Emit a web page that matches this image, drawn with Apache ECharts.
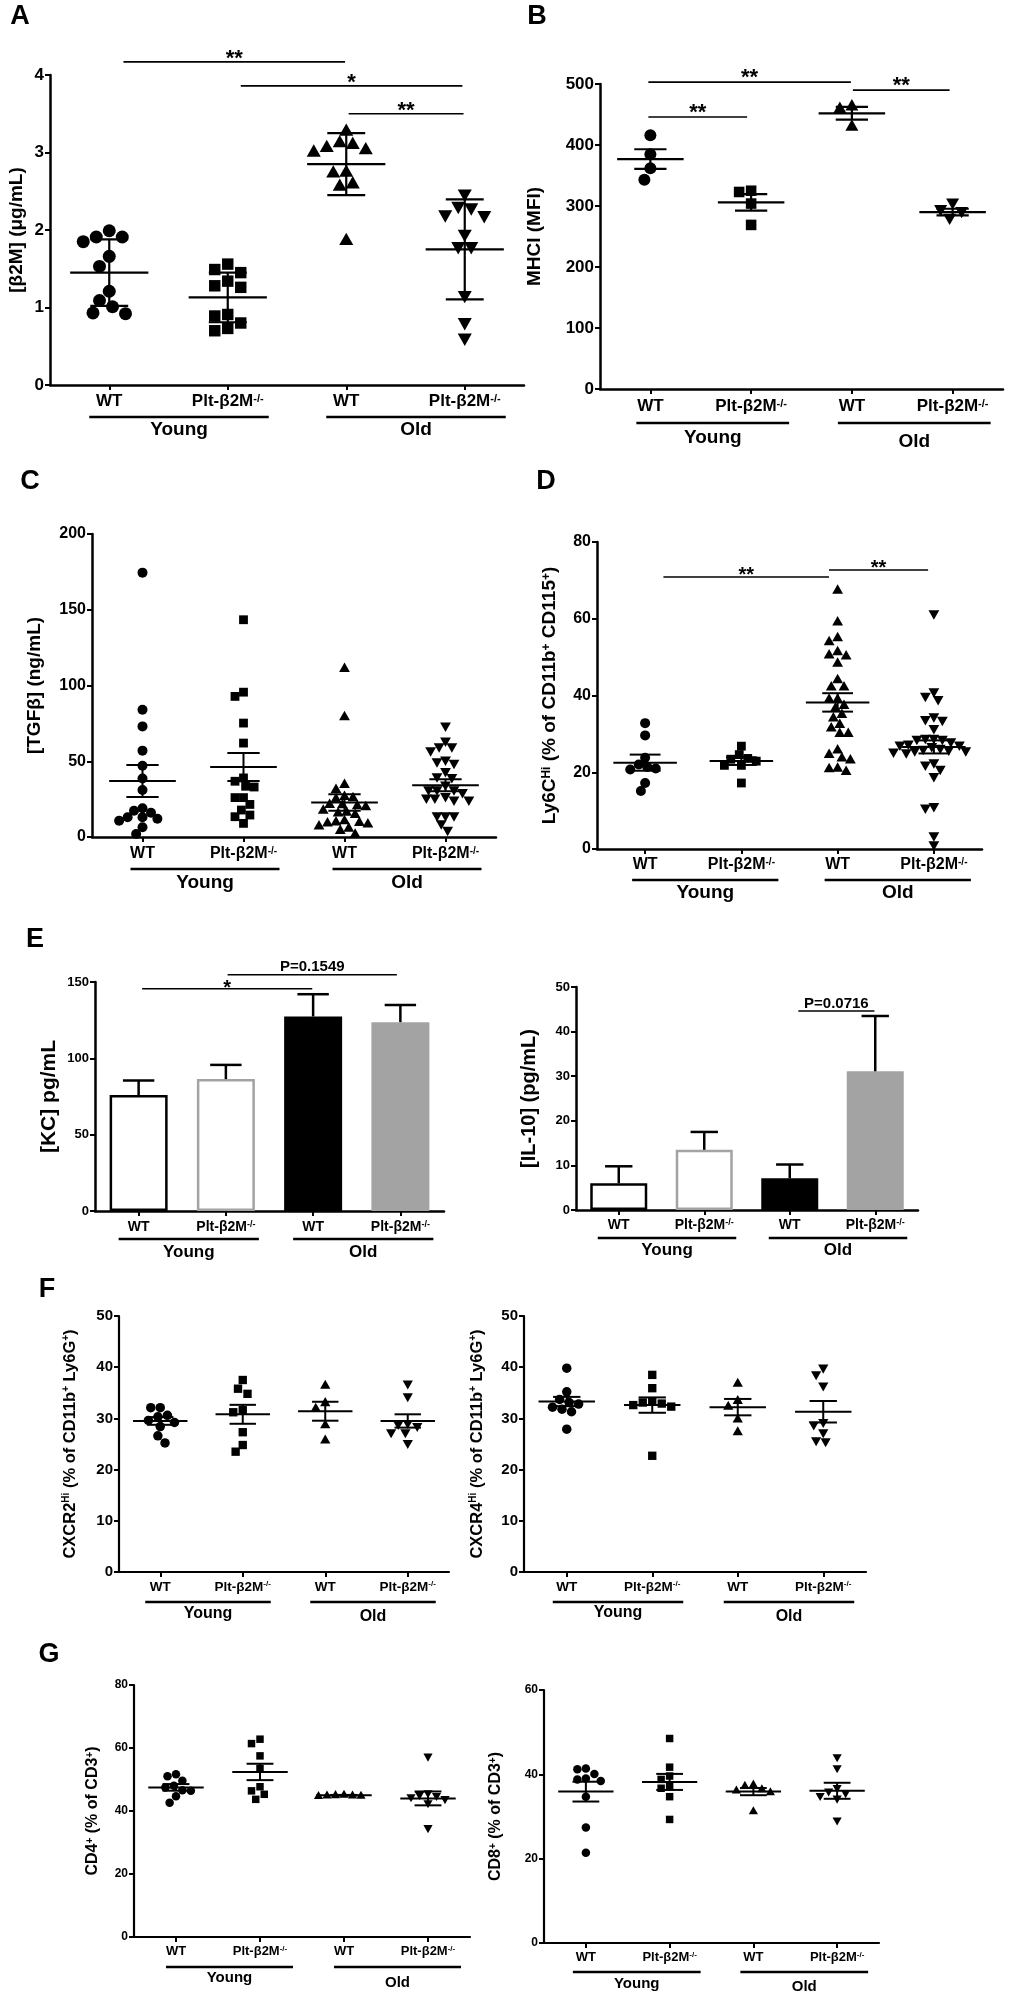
<!DOCTYPE html>
<html>
<head>
<meta charset="utf-8">
<title>Figure</title>
<script src="https://cdn.jsdelivr.net/npm/echarts/dist/echarts.min.js"></script>
<style>
html,body{margin:0;padding:0;background:#ffffff;}
#chart{width:1020px;height:2004px;}
</style>
</head>
<body>
<div id="chart"></div>
<script>
// ================= DATA =================
const categories = ['WT', 'Plt-β2M-/-', 'WT', 'Plt-β2M-/-'];
const ageGroups = ['Young', 'Old'];

// A  [β2M] (μg/mL)  mean ± SD
const a_young_wt  = [1.99, 1.91, 1.85, 1.91, 1.66, 1.53, 1.21, 1.01, 1.09, 0.92, 0.93];
const a_young_plt = [1.45, 1.49, 1.56, 1.34, 1.28, 1.26, 0.91, 0.89, 0.80, 0.73, 0.70];
const a_old_wt    = [3.28, 3.13, 3.07, 3.01, 3.04, 3.11, 2.75, 2.74, 2.60, 2.57, 1.87];
const a_old_plt   = [2.46, 2.30, 2.19, 2.18, 2.28, 1.94, 1.78, 1.78, 1.15, 0.80, 0.60];
const a_mean = [1.45, 1.13, 2.85, 1.75];
const a_err  = [0.43, 0.32, 0.40, 0.645];
const a_ticks = [0, 1, 2, 3, 4];
const a_sig = [{from: 0.62, to: 2.49, y: 4.17, text: '**'}, {from: 1.61, to: 3.48, y: 3.86, text: '*'}, {from: 2.52, to: 3.49, y: 3.5, text: '**'}];

// B  MHCI (MFI)
const b_young_wt  = [416, 385, 362, 343];
const b_young_plt = [323, 325, 304, 269];
const b_old_wt    = [464, 460, 431];
const b_old_plt   = [305, 294, 291, 280];
const b_mean = [377, 306, 452, 290];
const b_err  = [16, 13.5, 10.5, 5.5];
const b_ticks = [0, 100, 200, 300, 400, 500];
const b_sig = [{from: 0.48, to: 2.49, y: 503, text: '**'}, {from: 0.48, to: 1.46, y: 446, text: '**'}, {from: 2.51, to: 3.47, y: 490, text: '**'}];

// C  [TGFβ] (ng/mL)
const c_young_wt  = [174.5, 84, 73, 57, 47, 38.6, 31, 19, 16, 17.3, 10.7, 13, 13, 12, 6.4, 2];
const c_young_plt = [143.4, 95.6, 92.8, 75.2, 62, 36.8, 33, 33.5, 39, 26, 26, 21.5, 14.5, 13.4, 17.8, 9];
const c_old_wt    = [111.4, 79.6, 34.9, 31.6, 27, 26.1, 25.5, 21.7, 21.5, 20.8, 20.2, 17.8, 16.5, 16.0, 15.0, 11.0, 10.1, 9.8, 9.5, 8.8, 7.5, 6.0, 4.5, 2.0];
const c_old_plt   = [73, 63.2, 59.4, 56.8, 59.4, 50.7, 49.5, 48.5, 43, 39.6, 39, 31, 31, 34.2, 29.1, 31, 25.5, 24.3, 26.5, 25.5, 24.3, 13.8, 13.8, 13.8, 8.6, 4.2];
const c_mean = [37, 46.2, 22.8, 34.2];
const c_err  = [10.6, 9.3, 5.4, 4.0];
const c_ticks = [0, 50, 100, 150, 200];

// D  Ly6C Hi (% of CD11b+ CD115+)
const d_young_wt  = [32.8, 29.6, 23.8, 22, 20.7, 21, 21.4, 17.2, 15.1];
const d_young_plt = [26.8, 24.6, 23.4, 23.6, 22.9, 21.8, 21.8, 17.2];
const d_old_wt    = [67.5, 59.2, 55.1, 54.1, 50.6, 50.4, 51.5, 48.5, 44.2, 42.3, 42.3, 39.1, 39.1, 37.5, 36.8, 35.1, 34.2, 32.5, 31.6, 30.2, 30.2, 25.9, 24.7, 23.8, 23.3, 21.1, 20.3, 21.0];
const d_old_plt   = [61.2, 40.9, 38.9, 39.7, 34.4, 33.5, 33.7, 31.3, 28.5, 28.8, 28.8, 27.9, 28.5, 26.2, 25.9, 26.6, 27, 27.3, 27, 25.5, 25.2, 25.7, 25.5, 25, 21.8, 22.4, 20.7, 18.8, 11, 10.6, 3.4, 1.0];
const d_mean = [22.5, 22.9, 38.2, 26.6];
const d_err  = [2.1, 1.0, 2.4, 1.7];
const d_ticks = [0, 20, 40, 60, 80];
const d_sig = [{from: 0.69, to: 2.41, y: 70.9, text: '**'}, {from: 2.41, to: 3.44, y: 72.7, text: '**'}];

// E  [KC] pg/mL and [IL-10] (pg/mL)  bars, mean + SEM
const kc_mean = [76, 86.4, 127.4, 123.7];
const kc_err  = [9.5, 9.3, 14.6, 11.3];
const kc_ticks = [0, 50, 100, 150];
const kc_sig = [{from: 0.54, to: 2.49, y: 145.5, text: '*'}, {from: 1.52, to: 3.46, y: 154.7, text: 'P=0.1549'}];
const il10_mean = [6.0, 13.5, 7.1, 31.1];
const il10_err  = [3.8, 4.0, 3.1, 12.4];
const il10_ticks = [0, 10, 20, 30, 40, 50];
const il10_sig = [{from: 2.60, to: 3.49, y: 44.6, text: 'P=0.0716'}];

// F  CXCR2 Hi / CXCR4 Hi (% of CD11b+ Ly6G+)
const f2_young_wt  = [32.1, 32.1, 30.6, 30.3, 29.6, 29.2, 28.4, 26.6, 25.2];
const f2_young_plt = [37.5, 35.8, 34.8, 31.2, 31.6, 27.3, 24.8, 23.5];
const f2_old_wt    = [36.5, 33.1, 32.0, 28.8, 25.8];
const f2_old_plt   = [36.7, 34.2, 28.8, 27.2, 28.4, 27.2, 29.0, 25.1];
const f2_mean = [29.5, 30.8, 31.4, 29.5];
const f2_err  = [0.75, 1.85, 1.85, 1.3];
const f4_young_wt  = [39.8, 35.2, 33.7, 32.8, 33.1, 31.8, 31.3, 32.2, 27.9];
const f4_young_plt = [38.5, 35.9, 33.3, 32.6, 32.3, 32.9, 33.1, 22.7];
const f4_old_wt    = [36.9, 33.5, 32.4, 29.9, 27.4];
const f4_old_plt   = [39.8, 38.5, 36.3, 29.2, 28.7, 27.2, 25.4, 25.6];
const f4_mean = [33.3, 32.6, 32.2, 31.3];
const f4_err  = [0.9, 1.5, 1.6, 2.1];
const f_ticks = [0, 10, 20, 30, 40, 50];

// G  CD4+ / CD8+ (% of CD3+)
const g4_young_wt  = [51.7, 51.0, 49.6, 48.0, 47.5, 46.6, 46.4, 44.7, 42.6];
const g4_young_plt = [62.8, 61.4, 57.5, 53.5, 47.7, 46.4, 43.7, 45.3];
const g4_old_wt    = [45.2, 45.0, 44.9, 45.1, 45.0, 44.8];
const g4_old_plt   = [57.2, 45.6, 45.0, 44.3, 44.7, 43.7, 42.4, 34.5];
const g4_mean = [47.5, 52.4, 45.0, 44.0];
const g4_err  = [1.05, 2.6, 0.1, 2.2];
const g4_ticks = [0, 20, 40, 60, 80];
const g8_young_wt  = [41.4, 40.1, 41.2, 39.0, 38.4, 38.8, 34.7, 27.4, 21.4];
const g8_young_plt = [48.5, 41.7, 38.8, 39.6, 36.7, 37.1, 34.7, 29.3];
const g8_old_wt    = [37.3, 36.2, 36.5, 37.6, 35.8, 31.3];
const g8_old_plt   = [44.0, 41.4, 35.9, 34.2, 34.8, 36.7, 35.5, 29.0];
const g8_mean = [35.9, 38.2, 35.9, 36.1];
const g8_err  = [2.35, 1.9, 0.85, 1.9];
const g8_ticks = [0, 20, 40, 60];

// ================= LAYOUT / STYLE =================
const FONT = '"Liberation Sans", Arial, Helvetica, sans-serif';
const SHAPES = ['circle', 'square', 'triangle', 'triangleDown'];
const BAR_STYLES = [
  {color: '#ffffff', borderColor: '#000000', borderWidth: 2.5},
  {color: '#ffffff', borderColor: '#a3a3a3', borderWidth: 2.5},
  {color: '#000000', borderColor: '#000000', borderWidth: 0},
  {color: '#a3a3a3', borderColor: '#a3a3a3', borderWidth: 0}
];

const panels = [
  {kind: 'scatter', groups: [a_young_wt, a_young_plt, a_old_wt, a_old_plt], mean: a_mean, err: a_err, ticks: a_ticks, sig: a_sig,
   grid: {left: 50, top: 75, width: 474, height: 310}, title: '[β2M] (μg/mL)', titleX: 17, titleFont: 19,
   tickFont: 17, catFont: 17, catMargin: 8, grpFont: 19, lineOff: 32, grpOff: [45, 45], lineA: 20, lineB: 41,
   marker: 13, overlap: 1.0, lw: 2.2, axisW: 2.5, starFont: 22, sigDy: 8, sigW: 1.6},
  {kind: 'scatter', groups: [b_young_wt, b_young_plt, b_old_wt, b_old_plt], mean: b_mean, err: b_err, ticks: b_ticks, sig: b_sig,
   grid: {left: 600, top: 84, width: 403, height: 305}, title: 'MHCI (MFI)', titleX: 535, titleFont: 19,
   tickFont: 17, catFont: 17, catMargin: 9, grpFont: 19, lineOff: 34, grpOff: [49, 53], lineA: 14, lineB: 38,
   marker: 12, overlap: 1.0, lw: 2.2, axisW: 2.5, starFont: 22, sigDy: 9, sigW: 1.6},
  {kind: 'scatter', groups: [c_young_wt, c_young_plt, c_old_wt, c_old_plt], mean: c_mean, err: c_err, ticks: c_ticks, sig: [],
   grid: {left: 92, top: 534, width: 404, height: 303}, title: '[TGFβ] (ng/mL)', titleX: 35, titleFont: 19,
   tickFont: 16, catFont: 16, catMargin: 9, grpFont: 19, lineOff: 32, grpOff: [46, 46], lineA: 12, lineB: 36,
   marker: 10, overlap: 0.85, lw: 2, axisW: 2.5, starFont: 20, sigDy: 6, sigW: 1.5},
  {kind: 'scatter', groups: [d_young_wt, d_young_plt, d_old_wt, d_old_plt], mean: d_mean, err: d_err, ticks: d_ticks, sig: d_sig,
   grid: {left: 597, top: 542, width: 385, height: 307}, title: 'Ly6C^{Hi} (% of CD11b^{+} CD115^{+})', titleX: 550, titleFont: 19,
   tickFont: 16, catFont: 16, catMargin: 8, grpFont: 19, lineOff: 31, grpOff: [44, 44], lineA: 13, lineB: 37,
   marker: 10, overlap: 0.85, lw: 2, axisW: 2.5, starFont: 20, sigDy: 5.5, sigW: 1.5},
  {kind: 'bar', mean: kc_mean, err: kc_err, ticks: kc_ticks, sig: kc_sig,
   grid: {left: 95, top: 982, width: 349, height: 229}, title: '[KC] pg/mL', titleX: 49, titleFont: 21,
   tickFont: 13, catFont: 14, catMargin: 9, grpFont: 17, lineOff: 28, grpOff: [41, 41], lineA: 20, lineB: 33,
   barWidth: 58, capW: 0.18, lw: 2.5, axisW: 2.5, starFont: 20, sigDy: 5, sigW: 1.5, pFont: 15, pDy: 8},
  {kind: 'bar', mean: il10_mean, err: il10_err, ticks: il10_ticks, sig: il10_sig,
   grid: {left: 576, top: 987, width: 342, height: 223}, title: '[IL-10] (pg/mL)', titleX: 529, titleFont: 20,
   tickFont: 13, catFont: 14, catMargin: 8, grpFont: 17, lineOff: 28, grpOff: [40, 40], lineA: 21, lineB: 32,
   barWidth: 57, capW: 0.16, lw: 2.5, axisW: 2.5, starFont: 20, sigDy: 5, sigW: 1.5, pFont: 15, pDy: 7},
  {kind: 'scatter', groups: [f2_young_wt, f2_young_plt, f2_old_wt, f2_old_plt], mean: f2_mean, err: f2_err, ticks: f_ticks, sig: [],
   grid: {left: 119, top: 1316, width: 330, height: 256}, title: 'CXCR2^{Hi} (% of CD11b^{+} Ly6G^{+})', titleX: 70, titleFont: 16.5,
   tickFont: 15, catFont: 13.5, catMargin: 8, grpFont: 16, lineOff: 30, grpOff: [42, 45], lineA: 15, lineB: 28,
   marker: 9.5, overlap: 1.0, lw: 2, axisW: 2.2, starFont: 20, sigDy: 6, sigW: 1.5},
  {kind: 'scatter', groups: [f4_young_wt, f4_young_plt, f4_old_wt, f4_old_plt], mean: f4_mean, err: f4_err, ticks: f_ticks, sig: [],
   grid: {left: 524, top: 1316, width: 342, height: 256}, title: 'CXCR4^{Hi} (% of CD11b^{+} Ly6G^{+})', titleX: 477, titleFont: 16.5,
   tickFont: 15, catFont: 13.5, catMargin: 8, grpFont: 16, lineOff: 30, grpOff: [41, 45], lineA: 14, lineB: 31,
   marker: 9.5, overlap: 1.0, lw: 2, axisW: 2.2, starFont: 20, sigDy: 6, sigW: 1.5},
  {kind: 'scatter', groups: [g4_young_wt, g4_young_plt, g4_old_wt, g4_old_plt], mean: g4_mean, err: g4_err, ticks: g4_ticks, sig: [],
   grid: {left: 134, top: 1685, width: 336, height: 252}, title: 'CD4^{+} (% of CD3^{+})', titleX: 93, titleFont: 16,
   tickFont: 12, catFont: 13, catMargin: 8, grpFont: 15, lineOff: 30, grpOff: [41, 46], lineA: 10, lineB: 33,
   marker: 8.5, overlap: 1.0, lw: 2, axisW: 2.2, starFont: 20, sigDy: 6, sigW: 1.5},
  {kind: 'scatter', groups: [g8_young_wt, g8_young_plt, g8_old_wt, g8_old_plt], mean: g8_mean, err: g8_err, ticks: g8_ticks, sig: [],
   grid: {left: 544, top: 1690, width: 335, height: 253}, title: 'CD8^{+} (% of CD3^{+})', titleX: 496, titleFont: 16,
   tickFont: 12, catFont: 13, catMargin: 8, grpFont: 15, lineOff: 29, grpOff: [41, 44], lineA: 13, lineB: 31,
   marker: 8.5, overlap: 1.0, lw: 2, axisW: 2.2, starFont: 20, sigDy: 6, sigW: 1.5}
];

const letters = [
  {t: 'A', x: 20, y: 17}, {t: 'B', x: 537, y: 17}, {t: 'C', x: 30, y: 482}, {t: 'D', x: 546, y: 482},
  {t: 'E', x: 35, y: 940}, {t: 'F', x: 47, y: 1290}, {t: 'G', x: 49, y: 1655}
];

// ================= HELPERS =================
function supRich(str) {
  return '{t|' + str.replace(/\^\{([^}]*)\}/g, '}{s|$1}{t|') + '}';
}
function richStyles(f) {
  return {
    t: {fontSize: f, fontWeight: 'bold', fontFamily: FONT, color: '#000', fill: '#000'},
    s: {fontSize: Math.round(f * 0.62), fontWeight: 'bold', fontFamily: FONT, color: '#000', fill: '#000', verticalAlign: 'top'}
  };
}
function catFormatter(v) {
  if (v.endsWith('-/-')) return '{t|' + v.slice(0, -3) + '}{s|-/-}';
  return '{t|' + v + '}';
}
function swarm(ys, minD) {
  const order = ys.map((y, i) => i).sort((a, b) => ys[a] - ys[b]);
  const placed = [];
  const xs = new Array(ys.length).fill(0);
  const step = minD * 0.25;
  for (const i of order) {
    let chosen = 0;
    for (let k = 0; k < 200; k++) {
      const off = k === 0 ? 0 : (k % 2 ? -1 : 1) * Math.ceil(k / 2) * step;
      let ok = true;
      for (const p of placed) {
        const dx = p.x - off, dy = p.y - ys[i];
        if (dx * dx + dy * dy < minD * minD - 0.01) { ok = false; break; }
      }
      if (ok) { chosen = off; break; }
    }
    xs[i] = chosen;
    placed.push({x: chosen, y: ys[i]});
  }
  return xs;
}
function marker(shape, cx, cy, d) {
  const st = {fill: '#000'};
  if (shape === 'circle') return {type: 'circle', shape: {cx: cx, cy: cy, r: d / 2}, style: st};
  if (shape === 'square') { const s = d * 0.88; return {type: 'rect', shape: {x: cx - s / 2, y: cy - s / 2, width: s, height: s}, style: st}; }
  const w = d * 1.08, h = d * 0.95;
  if (shape === 'triangle') return {type: 'polygon', shape: {points: [[cx, cy - h * 0.6], [cx - w / 2, cy + h * 0.4], [cx + w / 2, cy + h * 0.4]]}, style: st};
  return {type: 'polygon', shape: {points: [[cx, cy + h * 0.6], [cx - w / 2, cy - h * 0.4], [cx + w / 2, cy - h * 0.4]]}, style: st};
}
function hline(x1, x2, y, w) { return {type: 'line', shape: {x1: x1, y1: y, x2: x2, y2: y}, style: {stroke: '#000', lineWidth: w}}; }
function vline(x, y1, y2, w) { return {type: 'line', shape: {x1: x, y1: y1, x2: x, y2: y2}, style: {stroke: '#000', lineWidth: w}}; }

// ================= BUILD OPTION =================
const grids = [], xAxes = [], yAxes = [], series = [], graphics = [];

panels.forEach((p, i) => {
  grids.push(Object.assign({containLabel: false, outerBoundsMode: 'none'}, p.grid));
  const catX = 2 * i, valX = 2 * i + 1;
  xAxes.push({
    type: 'category', gridIndex: i, data: categories, boundaryGap: true,
    axisLine: {show: true, onZero: false, lineStyle: {color: '#000', width: p.axisW}},
    axisTick: {show: true, alignWithLabel: true, interval: 0, length: 5, lineStyle: {color: '#000', width: 2}},
    axisLabel: {show: true, interval: 0, margin: p.catMargin, formatter: catFormatter, rich: richStyles(p.catFont)},
    splitLine: {show: false}
  });
  xAxes.push({type: 'value', gridIndex: i, min: 0, max: 4, show: false});
  yAxes.push({
    type: 'value', gridIndex: i, min: p.ticks[0], max: p.ticks[p.ticks.length - 1], interval: p.ticks[1] - p.ticks[0],
    axisLine: {show: true, onZero: false, lineStyle: {color: '#000', width: p.axisW}},
    axisTick: {show: true, length: 5, lineStyle: {color: '#000', width: 2}},
    axisLabel: {show: true, margin: 6, color: '#000', fontSize: p.tickFont, fontWeight: 'bold', fontFamily: FONT},
    splitLine: {show: false}
  });

  if (p.kind === 'scatter') {
    series.push({
      type: 'custom', xAxisIndex: valX, yAxisIndex: i, clip: false, silent: true,
      data: p.mean.map((m, g) => [g + 0.5, m]), encode: {x: 0, y: 1},
      renderItem: function (params, api) {
        const g = params.dataIndex;
        const vals = p.groups[g];
        const cx = api.coord([g + 0.5, 0])[0];
        const unit = api.size([1, 0])[0];
        const ys = vals.map(v => api.coord([g + 0.5, v])[1]);
        const xs = swarm(ys, p.marker * p.overlap);
        const ch = vals.map((v, k) => marker(SHAPES[g], cx + xs[k], ys[k], p.marker));
        const my = api.coord([g + 0.5, p.mean[g]])[1];
        const hi = api.coord([g + 0.5, p.mean[g] + p.err[g]])[1];
        const lo = api.coord([g + 0.5, p.mean[g] - p.err[g]])[1];
        ch.push(hline(cx - unit * 0.33, cx + unit * 0.33, my, p.lw));
        ch.push(vline(cx, hi, lo, p.lw));
        ch.push(hline(cx - unit * 0.16, cx + unit * 0.16, hi, p.lw));
        ch.push(hline(cx - unit * 0.16, cx + unit * 0.16, lo, p.lw));
        return {type: 'group', children: ch};
      }
    });
  } else {
    series.push({
      type: 'bar', xAxisIndex: catX, yAxisIndex: i, barWidth: p.barWidth, silent: true,
      data: p.mean.map((m, g) => ({value: m, itemStyle: BAR_STYLES[g]}))
    });
    series.push({
      type: 'custom', xAxisIndex: valX, yAxisIndex: i, clip: false, silent: true, z: 5,
      data: p.mean.map((m, g) => [g + 0.5, m, p.err[g]]), encode: {x: 0, y: 1},
      renderItem: function (params, api) {
        const g = params.dataIndex;
        const unit = api.size([1, 0])[0];
        const top = api.coord([g + 0.5, p.mean[g]]);
        const end = api.coord([g + 0.5, p.mean[g] + p.err[g]]);
        return {type: 'group', children: [
          vline(top[0], top[1], end[1], p.lw),
          hline(top[0] - unit * p.capW, top[0] + unit * p.capW, end[1], p.lw)
        ]};
      }
    });
  }

  // age-group underline + label
  series.push({
    type: 'custom', xAxisIndex: valX, yAxisIndex: i, clip: false, silent: true,
    data: ageGroups.map((n, k) => [2 * k + 0.5, 2 * k + 1.5, p.ticks[0]]), encode: {x: [0, 1], y: 2},
    renderItem: function (params, api) {
      const k = params.dataIndex;
      const a = api.coord([api.value(0), api.value(2)]);
      const b = api.coord([api.value(1), api.value(2)]);
      const x1 = a[0] - p.lineA, x2 = b[0] + p.lineB;
      return {type: 'group', children: [
        hline(x1, x2, a[1] + p.lineOff, 2.5),
        {type: 'text', style: {text: ageGroups[k], x: (x1 + x2) / 2, y: a[1] + p.grpOff[k], align: 'center', verticalAlign: 'middle',
          fontSize: p.grpFont, fontWeight: 'bold', fontFamily: FONT, fill: '#000'}}
      ]};
    }
  });

  // significance bars
  if (p.sig.length) {
    series.push({
      type: 'custom', xAxisIndex: valX, yAxisIndex: i, clip: false, silent: true,
      data: p.sig.map(s => [s.from, s.to, s.y]), encode: {x: [0, 1], y: 2},
      renderItem: function (params, api) {
        const s = p.sig[params.dataIndex];
        const a = api.coord([s.from, s.y]);
        const b = api.coord([s.to, s.y]);
        const isStar = /^\*+$/.test(s.text);
        const fs = isStar ? p.starFont : p.pFont;
        const ty = isStar ? a[1] - p.sigDy + 0.22 * fs : a[1] - p.pDy;
        return {type: 'group', children: [
          hline(a[0], b[0], a[1], p.sigW),
          {type: 'text', style: {text: s.text, x: (a[0] + b[0]) / 2, y: ty, align: 'center', verticalAlign: 'middle',
            fontSize: fs, fontWeight: 'bold', fontFamily: FONT, fill: '#000'}}
        ]};
      }
    });
  }

  // y-axis title
  graphics.push({
    type: 'text', x: p.titleX, y: p.grid.top + p.grid.height / 2, rotation: Math.PI / 2, silent: true,
    style: {text: supRich(p.title), rich: richStyles(p.titleFont), align: 'center', verticalAlign: 'middle',
      fontSize: p.titleFont, fontWeight: 'bold', fontFamily: FONT, fill: '#000'}
  });
});

letters.forEach(l => graphics.push({
  type: 'text', x: l.x, y: l.y, silent: true,
  style: {text: l.t, align: 'center', verticalAlign: 'middle', fontSize: 27, fontWeight: 'bold', fontFamily: FONT, fill: '#000'}
}));

const chart = echarts.init(document.getElementById('chart'), null, {renderer: 'canvas', width: 1020, height: 2004});
chart.setOption({
  backgroundColor: '#ffffff',
  animation: false,
  tooltip: {show: false},
  grid: grids,
  xAxis: xAxes,
  yAxis: yAxes,
  series: series,
  graphic: {elements: graphics}
});
</script>
</body>
</html>
